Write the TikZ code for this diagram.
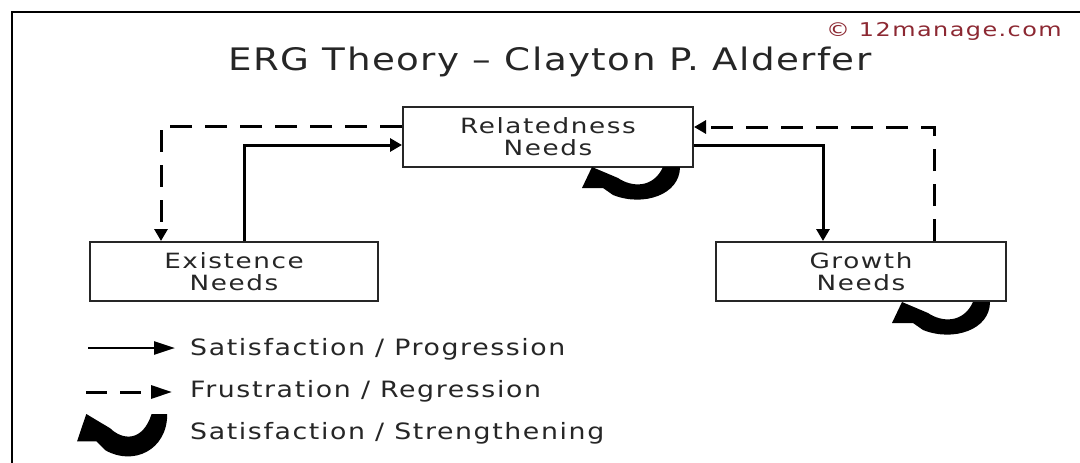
\documentclass[tikz,border=0pt]{standalone}
\usepackage{fontspec}
\setmainfont{DejaVu Sans}
\usetikzlibrary{arrows.meta}
\definecolor{copyred}{RGB}{140,40,50}
\newfontfamily\spaced[LetterSpace=6]{DejaVu Sans}
\newfontfamily\titlefont[LetterSpace=4]{DejaVu Sans}
\tikzset{
  box/.style={draw=black!85, line width=2pt, fill=white, minimum width=290pt, minimum height=60pt},
  boxtext/.style={align=center, font=\spaced\fontsize{21}{22}\selectfont, text=black!85, inner sep=0pt, xscale=1.25},
  solidarrow/.style={line width=3pt, -{Triangle[length=12pt,width=13pt]}},
  dasharrow/.style={line width=3pt, dash pattern=on 22pt off 13pt, -{Triangle[length=12pt,width=13pt]}},
  legtext/.style={anchor=west, font=\spaced\fontsize{22.5}{24}\selectfont, text=black!85, inner sep=0pt, xscale=1.19},
  legtip/.style={-{Triangle[length=21pt,width=13pt]}},
}
\newcommand{\curlarrow}[1]{%
  \fill[black, #1] (-1,21) -- (9,0) -- (35,11)
     .. controls (48,20) and (70,22) .. (80,0)
     -- (97,0) .. controls (97,28) and (60,40) .. (30,28) -- (20,21) -- cycle;}
\begin{document}
\begin{tikzpicture}[x=1pt,y=-1pt]
\useasboundingbox (0,0) rectangle (1080,463);
\fill[white] (0,0) rectangle (1080,463);
\draw[line width=2.5pt] (12,463) -- (12,12) -- (1080,12);

\node[anchor=east, text=copyred, font=\spaced\fontsize{19}{20}\selectfont, inner sep=0pt, xscale=1.26] (copy) at (1062,31) {© 12manage.com};
\node[font=\titlefont\fontsize{31}{34}\selectfont, text=black!85, inner sep=0pt, xscale=1.2] (title) at (550,62) {ERG Theory – Clayton P.\ Alderfer};

\node[box] (rel) at (548,137) {};
\node[box, minimum width=288pt, minimum height=59pt] (ex) at (234,271.5) {};
\node[box, minimum height=59pt] (gr) at (861,271.5) {};
\node[boxtext] (relt) at (rel.center) {Relatedness\\Needs};
\node[boxtext] (ext) at (ex.center) {Existence\\Needs};
\node[boxtext] (grt) at (gr.center) {Growth\\Needs};

\draw[dasharrow] ([yshift=11pt]rel.west) -| ([xshift=-73pt]ex.north);
\draw[solidarrow] ([xshift=10pt]ex.north) |- ([yshift=-8pt]rel.west);
\draw[dasharrow] ([xshift=73pt]gr.north) |- ([yshift=10pt]rel.east);
\draw[solidarrow] ([yshift=-8pt]rel.east) -| ([xshift=-38pt]gr.north);

\curlarrow{shift={(583,167)}}
\curlarrow{shift={(893,302)}}

% legend
\coordinate (l1a) at (88,348);
\coordinate (l1b) at (175,348);
\coordinate (l2a) at (86,392);
\coordinate (l2b) at (172,392);
\draw[line width=2.5pt, legtip] (l1a) -- (l1b);
\draw[line width=3pt, dash pattern=on 21pt off 13pt, legtip] (l2a) -- (l2b);
\curlarrow{shift={(78,414)}, xscale=0.92, yscale=1.3}
\node[legtext] (t1) at (190,349) {Satisfaction / Progression};
\node[legtext] (t2) at (190,391) {Frustration / Regression};
\node[legtext] (t3) at (190,433) {Satisfaction / Strengthening};
\end{tikzpicture}
\end{document}
